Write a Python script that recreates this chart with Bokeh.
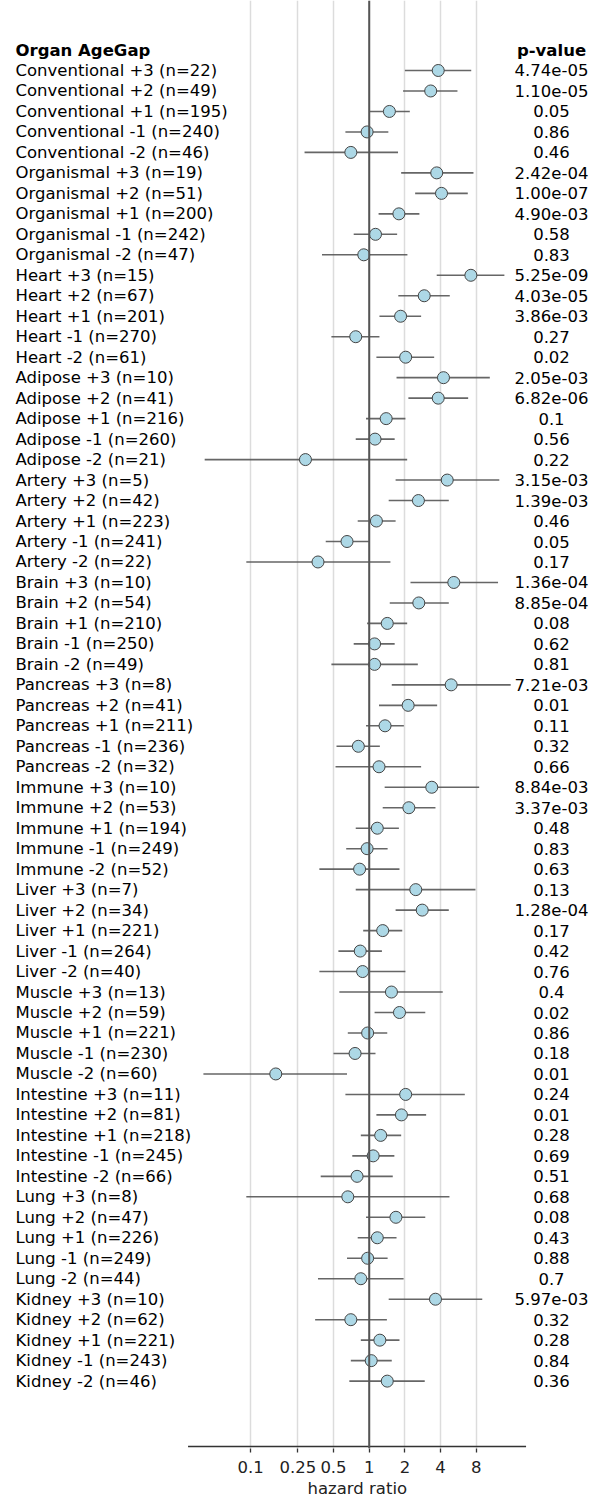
import math
from bokeh.plotting import figure
from bokeh.models import (ColumnDataSource, Range1d, FixedTicker, PrintfTickFormatter,
                          Span, LinearScale, Title)
from bokeh.core.properties import value
from bokeh.embed import file_html
from bokeh.resources import INLINE

organs = ["Conventional", "Organismal", "Heart", "Adipose", "Artery", "Brain", "Pancreas",
          "Immune", "Liver", "Muscle", "Intestine", "Lung", "Kidney"]
gaps = ["+3", "+2", "+1", "-1", "-2"]

n_counts = [
    22, 49, 195, 240, 46,
    19, 51, 200, 242, 47,
    15, 67, 201, 270, 61,
    10, 41, 216, 260, 21,
    5, 42, 223, 241, 22,
    10, 54, 210, 250, 49,
    8, 41, 211, 236, 32,
    10, 53, 194, 249, 52,
    7, 34, 221, 264, 40,
    13, 59, 221, 230, 60,
    11, 81, 218, 245, 66,
    8, 47, 226, 249, 44,
    10, 62, 221, 243, 46,
]

hazard = [
    3.82, 3.30, 1.48, 0.96, 0.70,
    3.71, 4.07, 1.78, 1.13, 0.90,
    7.20, 2.91, 1.84, 0.77, 2.03,
    4.23, 3.82, 1.39, 1.12, 0.29,
    4.55, 2.60, 1.15, 0.65, 0.37,
    5.17, 2.62, 1.42, 1.11, 1.11,
    4.91, 2.13, 1.36, 0.81, 1.21,
    3.37, 2.16, 1.17, 0.96, 0.83,
    2.47, 2.80, 1.30, 0.84, 0.88,
    1.54, 1.80, 0.97, 0.76, 0.163,
    2.03, 1.87, 1.25, 1.08, 0.79,
    0.66, 1.68, 1.17, 0.97, 0.85,
    3.62, 0.70, 1.23, 1.04, 1.42,
]

ci_low = [
    2.00, 1.93, 1.00, 0.63, 0.285,
    1.86, 2.44, 1.20, 0.74, 0.40,
    3.71, 1.76, 1.22, 0.48, 1.15,
    1.70, 2.14, 0.94, 0.77, 0.041,
    1.67, 1.46, 0.80, 0.43, 0.092,
    2.23, 1.49, 0.96, 0.74, 0.48,
    1.55, 1.21, 0.94, 0.53, 0.52,
    1.35, 1.30, 0.77, 0.64, 0.38,
    0.77, 1.67, 0.89, 0.55, 0.38,
    0.56, 1.11, 0.66, 0.50, 0.040,
    0.63, 1.15, 0.85, 0.72, 0.39,
    0.092, 0.94, 0.80, 0.65, 0.37,
    1.46, 0.35, 0.85, 0.70, 0.68,
]

ci_high = [
    7.25, 5.55, 2.20, 1.45, 1.75,
    7.57, 6.78, 2.65, 1.72, 2.10,
    13.8, 4.78, 2.74, 1.22, 3.53,
    10.4, 6.83, 2.02, 1.64, 2.09,
    12.5, 4.69, 1.67, 1.00, 1.51,
    12.2, 4.69, 2.09, 1.64, 2.57,
    15.6, 3.74, 1.96, 1.23, 2.74,
    8.46, 3.62, 1.78, 1.43, 1.80,
    7.87, 4.69, 1.90, 1.28, 2.02,
    4.17, 2.97, 1.42, 1.13, 0.65,
    6.40, 3.02, 1.86, 1.63, 1.58,
    4.75, 2.97, 1.70, 1.43, 1.95,
    8.98, 1.41, 1.80, 1.55, 2.94,
]

p_values = [
    "4.74e-05", "1.10e-05", "0.05", "0.86", "0.46",
    "2.42e-04", "1.00e-07", "4.90e-03", "0.58", "0.83",
    "5.25e-09", "4.03e-05", "3.86e-03", "0.27", "0.02",
    "2.05e-03", "6.82e-06", "0.1", "0.56", "0.22",
    "3.15e-03", "1.39e-03", "0.46", "0.05", "0.17",
    "1.36e-04", "8.85e-04", "0.08", "0.62", "0.81",
    "7.21e-03", "0.01", "0.11", "0.32", "0.66",
    "8.84e-03", "3.37e-03", "0.48", "0.83", "0.63",
    "0.13", "1.28e-04", "0.17", "0.42", "0.76",
    "0.4", "0.02", "0.86", "0.18", "0.01",
    "0.24", "0.01", "0.28", "0.69", "0.51",
    "0.68", "0.08", "0.43", "0.88", "0.7",
    "5.97e-03", "0.32", "0.28", "0.84", "0.36",
]

tick_values = [0.1, 0.25, 0.5, 1, 2, 4, 8]

# ---------------------------------------------------------------
labels = []
for o in organs:
    for g in gaps:
        labels.append(f"{o} {g}")
labels = [f"{lab} (n={n})" for lab, n in zip(labels, n_counts)]
rows = list(range(len(labels)))

src = ColumnDataSource(dict(y=rows, hr=hazard, lo=ci_low, hi=ci_high,
                            label=labels, p=p_values))

FONT = value("DejaVu Sans")
FS = "16.5px"
W = 592
FRAME_H = 1448
PX_PER_DOUBLING = 35.7
ONE_PX = 368.7

# data limits (matplotlib style: 5% margin in log space) -> axis spine extent
lmin = math.log2(min(ci_low))
lmax = math.log2(max(ci_high))
marg = 0.05 * (lmax - lmin)
spine_lo, spine_hi = 2 ** (lmin - marg), 2 ** (lmax + marg)

x_range = Range1d(start=2 ** (-ONE_PX / PX_PER_DOUBLING),
                  end=2 ** ((W - ONE_PX) / PX_PER_DOUBLING))
y_range = Range1d(start=67.29, end=-3.418)
axis_row = 67.19

p = figure(frame_width=W, frame_height=FRAME_H, x_axis_type="log",
           x_range=x_range, y_range=y_range, toolbar_location=None,
           output_backend="svg", y_axis_location=None,
           min_border_left=0, min_border_right=0, min_border_top=0,
           min_border_bottom=30)
p.extra_x_ranges = {"px": Range1d(0, W)}
p.extra_x_scales = {"px": LinearScale()}
p.outline_line_color = None
p.background_fill_color = "white"
p.border_fill_color = "white"

p.ygrid.visible = False
p.xgrid.ticker = FixedTicker(ticks=tick_values)
p.xgrid.grid_line_color = "#dcdcdc"
p.xgrid.grid_line_width = 1.5

ax = p.xaxis[0]
ax.ticker = FixedTicker(ticks=tick_values)
ax.formatter = PrintfTickFormatter(format="%g")
ax.axis_line_color = None
ax.major_tick_line_color = "#333333"
ax.major_tick_line_width = 1.3
ax.major_tick_out = 4
ax.major_tick_in = 0
ax.minor_tick_line_color = None
ax.major_label_text_font = "DejaVu Sans"
ax.major_label_text_font_size = FS
ax.major_label_text_color = "#222222"
ax.major_label_standoff = 8

# x-axis title placed below the axis, centred under the axis spine
p.add_layout(Title(text="hazard ratio", align="left", offset=307, standoff=2,
                   text_font="DejaVu Sans", text_font_size=FS,
                   text_font_style="normal", text_color="#222222"), "below")

# reference line at HR = 1
p.add_layout(Span(location=1, dimension="height", line_color="#555555", line_width=2))

# axis spine spanning only the data limits
p.segment(x0=[spine_lo], x1=[spine_hi], y0=[axis_row], y1=[axis_row],
          line_color="#333333", line_width=1.4)

# confidence intervals and points
p.segment(x0="lo", x1="hi", y0="y", y1="y", source=src, line_color="#555555",
          line_width=1.6, line_alpha=0.9)
p.scatter(x="hr", y="y", source=src, size=12, marker="circle",
          fill_color="#add8e6", line_color="#444444", line_width=1)

# texts (in a pixel-like extra range)
p.text(x=15, y="y", text="label", source=src, x_range_name="px",
       text_font=FONT, text_font_size=FS, text_baseline="middle",
       text_align="left", text_color="black")
p.text(x=[15], y=[-1], text=["Organ AgeGap"], x_range_name="px",
       text_font=FONT, text_font_size=FS, text_font_style="bold",
       text_baseline="middle", text_align="left", text_color="black")
p.text(x=551, y="y", text="p", source=src, x_range_name="px",
       text_font=FONT, text_font_size=FS, text_baseline="middle",
       text_align="center", text_color="black")
p.text(x=[551], y=[-1], text=["p-value"], x_range_name="px",
       text_font=FONT, text_font_size=FS, text_font_style="bold",
       text_baseline="middle", text_align="center", text_color="black")

open("out.html", "w").write(file_html(p, INLINE))
